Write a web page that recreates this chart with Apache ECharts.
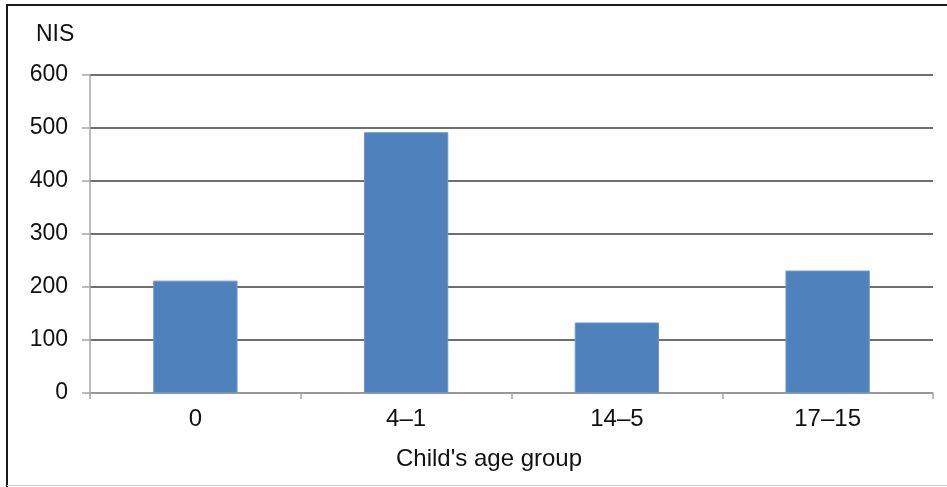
<!DOCTYPE html>
<html>
<head>
<meta charset="utf-8">
<script src="https://cdn.jsdelivr.net/npm/echarts@6/dist/echarts.min.js"></script>
<style>
  html, body { margin: 0; padding: 0; background: #fff; }
  #chart { width: 947px; height: 487px; }
</style>
</head>
<body>
<div id="chart"></div>
<script>
// Age groups and the amount per group (NIS)
const categories = ['0', '4\u20131', '14\u20135', '17\u201315'];
const amounts = [212, 492, 133, 231];
const yTicks = { min: 0, max: 600, interval: 100 };
const unitLabel = 'NIS';
const xTitle = "Child's age group";

const FONT = 'Arial, "Liberation Sans", sans-serif';

const chart = echarts.init(document.getElementById('chart'), null, { renderer: 'canvas' });

chart.setOption({
  animation: false,
  backgroundColor: '#ffffff',
  grid: { left: 90, right: 14, top: 75, bottom: 94, containLabel: false },
  xAxis: {
    type: 'category',
    data: categories,
    axisLine: { show: true, lineStyle: { color: '#a6a6a6', width: 1.5 } },
    axisTick: { show: true, alignWithLabel: false, length: 6, lineStyle: { color: '#a6a6a6', width: 1.5 } },
    axisLabel: { color: '#111', fontFamily: FONT, fontSize: 24, margin: 14 },
    splitLine: { show: false }
  },
  yAxis: {
    type: 'value',
    min: yTicks.min,
    max: yTicks.max,
    interval: yTicks.interval,
    axisLine: { show: true, lineStyle: { color: '#a6a6a6', width: 1.5 } },
    axisTick: { show: true, inside: false, length: 8, lineStyle: { color: '#a6a6a6', width: 1.5 } },
    axisLabel: { color: '#111', fontFamily: FONT, fontSize: 23, margin: 22 },
    splitLine: { show: true, lineStyle: { color: '#3f3f3f', width: 1.6 } }
  },
  series: [{
    type: 'bar',
    data: amounts,
    barWidth: '40%',
    itemStyle: { color: '#4f81bd', borderColor: '#6b96c8', borderWidth: 1 }
  }],
  graphic: [
    // frame around the chart
    { type: 'line', shape: { x1: 6, y1: 5, x2: 947, y2: 5 }, style: { stroke: '#1a1a1a', lineWidth: 2 } },
    { type: 'line', shape: { x1: 7, y1: 4, x2: 7, y2: 487 }, style: { stroke: '#1a1a1a', lineWidth: 2 } },
    { type: 'line', shape: { x1: 7, y1: 485.5, x2: 947, y2: 485.5 }, style: { stroke: '#d0d0d0', lineWidth: 1 } },
    // unit label
    { type: 'text', left: 36, top: 23, style: { text: unitLabel, fill: '#111', font: '23px ' + FONT } },
    // x axis title
    { type: 'text', left: 396, top: 447, style: { text: xTitle, fill: '#111', font: '24px ' + FONT } }
  ]
});
</script>
</body>
</html>
